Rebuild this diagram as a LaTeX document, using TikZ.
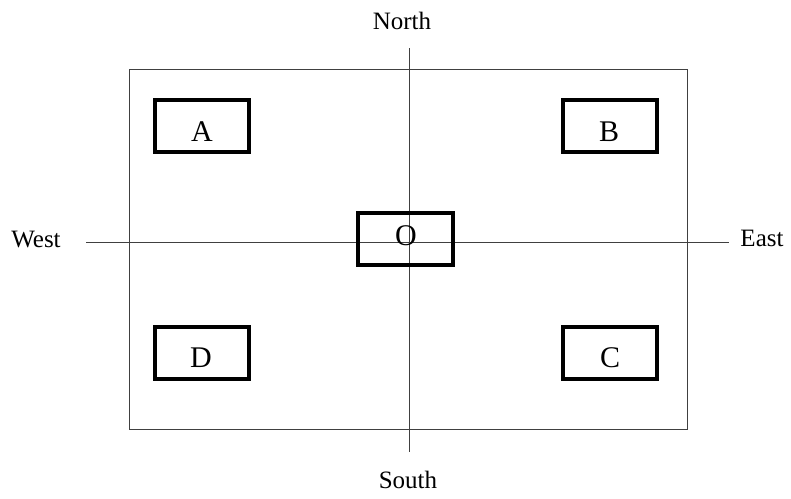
\documentclass[tikz,border=0pt]{standalone}
\usepackage{fontspec}
\setmainfont{Liberation Serif}

\begin{document}
\begin{tikzpicture}[x=1pt,y=-1pt]
  \tikzset{BoxStyle/.style = {
    shape         = rectangle,
    draw          = black,
    line width    = 3.6pt,
    minimum width = 94.5pt,
    minimum height= 52.5pt,
    inner sep     = 0pt,
    outer sep     = 0pt
    }
  }
  \tikzset{LetterStyle/.style = {
    anchor    = base,
    inner sep = 0pt,
    font      = \fontsize{30}{36}\selectfont
    }
  }
  \tikzset{DirStyle/.style = {
    anchor    = base,
    inner sep = 0pt,
    font      = \fontsize{25}{30}\selectfont
    }
  }
  \tikzset{AxisStyle/.style = {
    draw       = black!75,
    line width = 1pt
    }
  }

  \useasboundingbox (0,0) rectangle (791,498);

  % frame and axes
  \draw[AxisStyle] (129,69) rectangle (687,429);
  \coordinate (Ntop) at (409,48);
  \coordinate (Sbot) at (409,452);
  \coordinate (Wend) at (86,242);
  \coordinate (Eend) at (729,242);
  \draw[AxisStyle] (Ntop) -- (Sbot);
  \draw[AxisStyle] (Wend) -- (Eend);

  \node[DirStyle](North) at (402,29) {North};
  \node[DirStyle](South) at (408,488) {South};
  \node[DirStyle](West) at (36,247) {West};
  \node[DirStyle](East) at (762,246) {East};

  % boxes
  \node[BoxStyle](boxA) at (202,126) {};
  \node[BoxStyle](boxB) at (610,126) {};
  \node[BoxStyle](boxO) at (405.5,239) {};
  \node[BoxStyle](boxD) at (202,353) {};
  \node[BoxStyle](boxC) at (610,353) {};

  \node[LetterStyle](A) at (202,141) {A};
  \node[LetterStyle](B) at (609,141) {B};
  \node[LetterStyle](O) at (406,245) {O};
  \node[LetterStyle](D) at (201,367) {D};
  \node[LetterStyle](C) at (610,367) {C};

\end{tikzpicture}
\end{document}
